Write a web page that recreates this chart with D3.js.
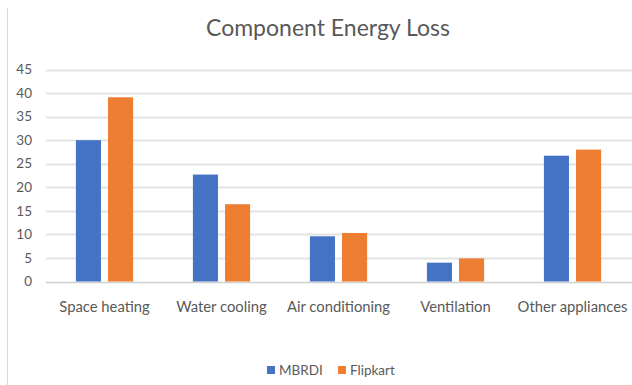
<!DOCTYPE html>
<html><head><meta charset="utf-8">
<script src="https://cdn.jsdelivr.net/npm/d3@7"></script>
<style>body{margin:0;background:#fff}svg{display:block}</style>
</head><body>
<script>
const categories = ["Space heating","Water cooling","Air conditioning","Ventilation","Other appliances"];
const seriesNames = ["MBRDI","Flipkart"];
const mbrdi = [30, 22.7, 9.6, 4.0, 26.7];
const flipkart = [39.1, 16.4, 10.3, 4.9, 28.0];
const yTicks = [0,5,10,15,20,25,30,35,40,45];
const colors = ["#4472C4","#ED7D31"];
const title = "Component Energy Loss";

const W = 632, H = 385;
const svg = d3.select("body").append("svg").attr("width", W).attr("height", H);
const font = "Lato, 'Open Sans', sans-serif";

svg.append("line").attr("x1",7.5).attr("x2",7.5).attr("y1",8).attr("y2",H)
  .attr("stroke","#d9d9d9").attr("stroke-width",1);

const x0 = d3.scaleBand().domain(categories).range([46, 631]).paddingInner(0).paddingOuter(0);
const x1 = d3.scaleBand().domain(seriesNames).range([0, x0.bandwidth()]).paddingInner(0.22).paddingOuter(0.93);
const y = d3.scaleLinear().domain([0,45]).range([281.5, 69.5]);

const g = svg.append("g");
g.selectAll("line.grid").data(yTicks).join("line").attr("class","grid")
  .attr("x1",46).attr("x2",632).attr("y1",d=>Math.round(y(d))+0.5).attr("y2",d=>Math.round(y(d))+0.5)
  .attr("stroke", d=> d===0 ? "#cfcfcf" : "#e3e3e3").attr("stroke-width", d=> d===0 ? 1.5 : 2);

g.selectAll("text.yt").data(yTicks).join("text").attr("class","yt")
  .attr("x",32).attr("y",d=>y(d)).attr("dy","0.35em").attr("text-anchor","end")
  .attr("font-family",font).attr("font-size",13.5).attr("fill","#595959").text(d=>d);

const data = categories.map((c,i)=>({c, vals:[{s:"MBRDI",v:mbrdi[i]},{s:"Flipkart",v:flipkart[i]}]}));
const cg = g.selectAll("g.cat").data(data).join("g").attr("transform",d=>`translate(${x0(d.c)},0)`);
cg.selectAll("rect").data(d=>d.vals).join("rect")
  .attr("x",d=>x1(d.s)).attr("width",x1.bandwidth())
  .attr("y",d=>y(d.v)).attr("height",d=>y(0)-y(d.v))
  .attr("fill",(d,i)=>colors[i]);

g.selectAll("text.xt").data(categories).join("text").attr("class","xt")
  .attr("x",d=>x0(d)+x0.bandwidth()/2).attr("y",307).attr("dy","0.35em").attr("text-anchor","middle")
  .attr("font-family",font).attr("font-size",14.8).attr("fill","#595959").text(d=>d);

svg.append("text").attr("x",328).attr("y",28).attr("dy","0.35em").attr("text-anchor","middle")
  .attr("font-family",font).attr("font-size",23).attr("fill","#595959").text(title);

const legX = [267, 338];
const lg = svg.selectAll("g.leg").data(seriesNames).join("g").attr("transform",(d,i)=>`translate(${legX[i]},370)`);
lg.append("rect").attr("x",0).attr("y",-4).attr("width",8).attr("height",8).attr("fill",(d,i)=>colors[i]);
lg.append("text").attr("x",12).attr("y",0).attr("dy","0.35em").attr("font-family",font).attr("font-size",13.5)
  .attr("fill","#595959").text(d=>d);
</script>
</body></html>
